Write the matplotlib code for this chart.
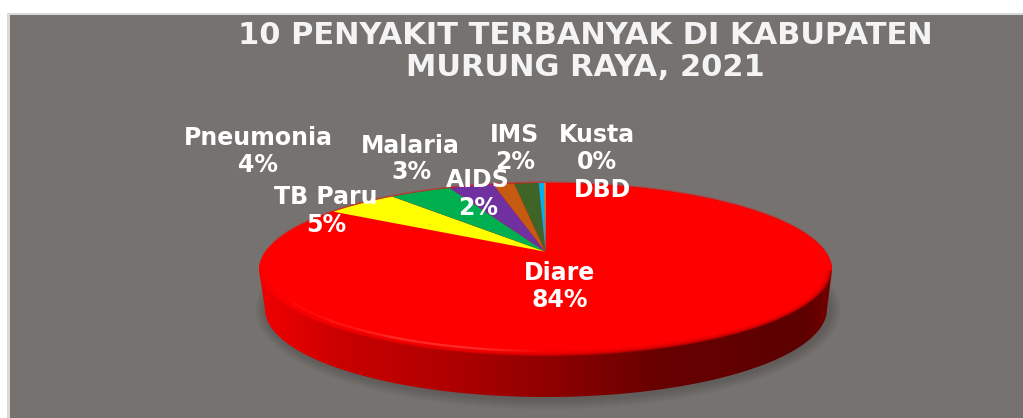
import numpy as np
import matplotlib
matplotlib.use("Agg")
import matplotlib.pyplot as plt
from matplotlib.colors import LinearSegmentedColormap
from matplotlib.patches import Ellipse, Polygon, Rectangle, Arc

# ---- data (clockwise from the back of the pie) ----
diseases = ["Diare", "TB Paru", "Pneumonia", "Malaria", "AIDS", "IMS", "Kusta", "DBD"]
shares = [84.0, 5.0, 4.3, 3.1, 1.45, 1.7, 0.4, 0.07]
shown = ["84%", "5%", "4%", "3%", "2%", "2%", "0%", ""]
slice_colors = ["#FF0000", "#FFFF00", "#00B050", "#7030A0", "#C55A11", "#3F6427", "#00B0F0", "#FFC000"]
title_lines = ["10 PENYAKIT TERBANYAK DI KABUPATEN", "MURUNG RAYA, 2021"]

# ---- layout ----
BG = "#767270"
CX, CY, RX, RY = 545.5, 270.5, 286.5, 87.5
BCX, BCY, BRX, BRY = 546.0, 309.0, 281.0, 88.0
K = 0.804  # perspective of the tilted disc
label_pos = {
    "Diare": (560, 273, 560, 300),
    "TB Paru": (326, 197, 326, 225),
    "Pneumonia": (258, 138, 258, 165),
    "Malaria": (410, 146, 411, 172),
    "AIDS": (478, 180, 478, 208),
    "IMS": (515, 135, 515, 162),
    "Kusta": (597, 135, 597, 162),
    "DBD": (603, 190, 603, 190),
}

plt.rcParams["font.family"] = ["DejaVu Sans"]
fig = plt.figure(figsize=(10.23, 4.18), dpi=100, facecolor="white")
ax = fig.add_axes([0, 0, 1, 1])
ax.set_xlim(0, 1023)
ax.set_ylim(418, 0)
ax.axis("off")

ax.add_patch(Rectangle((7, 13), 1016, 405, color="#D9D9D9", lw=0))
ax.add_patch(Rectangle((10, 15), 1013, 403, color=BG, lw=0))


def project(a):
    t = 2 * np.arctan2(K * np.sin(a / 2), np.cos(a / 2))
    return CX + RX * np.sin(t), CY - RY * np.cos(t)


# soft shadow
for i in range(12):
    grow = 12 - i
    ax.add_patch(Ellipse((BCX + 2, BCY + 1), 2 * (BRX + grow), 2 * (BRY + grow),
                         color="#3a3634", alpha=0.025, lw=0))

# side wall with horizontal gradient
stops = [(0.0, (240, 0, 0)), (0.15, (200, 0, 0)), (0.33, (176, 0, 0)), (0.52, (140, 0, 0)),
         (0.69, (105, 0, 0)), (0.95, (92, 0, 0)), (1.0, (115, 0, 0))]
cmap = LinearSegmentedColormap.from_list(
    "side", [(p, tuple(v / 255 for v in c)) for p, c in stops])
th = np.linspace(np.pi, 2 * np.pi, 200)
upper = np.c_[CX + RX * np.cos(th), CY + RY * np.sin(th)]
lower = np.c_[BCX + BRX * np.cos(th[::-1]), BCY - BRY * np.sin(th[::-1])]
wall = Polygon(np.r_[upper, lower], closed=True, transform=ax.transData, lw=0, fc="none")
ax.add_patch(wall)
grad = np.linspace(0, 1, 600)[None, :]
im = ax.imshow(grad, cmap=cmap, extent=(CX - RX, CX + RX, 400, 180), aspect="auto", zorder=2)
im.set_clip_path(wall)
ax.set_xlim(0, 1023)
ax.set_ylim(418, 0)

# top surface: soft bevel along the front, crisp edge along the back
steps = 9
for i in range(steps):
    ax.add_patch(Ellipse((CX, CY - 0.2 * (steps - i)), 2 * (RX - i * 0.9), 2 * (RY - i * 0.9),
                         fc="#FF0000", alpha=0.30 if i < steps - 1 else 1.0, lw=0, zorder=3))
back = np.linspace(np.pi, 2 * np.pi, 300)
ax.fill(CX + RX * np.cos(back), CY - 6 + (RY - 6) * np.sin(back) * 0 + (CY + RY * np.sin(back) - (CY - 6)),
        color="#FF0000", lw=0, zorder=3.2)
# highlight that fades out towards the front of the disc
segments = np.linspace(172, 92, 17)
for j, (t0, t1) in enumerate(zip(segments[1:], segments[:-1])):
    fade = 0.45 * min(1.0, (16 - j) / 8) * min(1.0, (j + 1) / 4)
    ax.add_patch(Arc((CX, CY - 3), 2 * (RX - 8), 2 * (RY - 4), theta1=t0, theta2=t1,
                     color="#FF5A5A", lw=1.6, alpha=fade, zorder=3.5))

# slices
edges = np.r_[0, np.cumsum(shares)] / np.sum(shares) * 2 * np.pi
apex = (CX, project(np.pi / 2)[1])
for a0, a1, col in zip(edges[:-1], edges[1:], slice_colors):
    if col == slice_colors[0]:
        continue
    aa = np.linspace(a0, a1, 300)
    x, y = project(aa)
    ax.fill(np.r_[apex[0], x], np.r_[apex[1], y], color=col, lw=0, zorder=4)

# texts
lab_kw = dict(color="white", ha="center", va="center", fontsize=17, fontweight="bold", zorder=6)
for name, pct in zip(diseases, shown):
    x0, y0, x1, y1 = label_pos[name]
    ax.text(x0, y0, name, **lab_kw)
    if pct:
        ax.text(x1, y1, pct, **lab_kw)

for line, y in zip(title_lines, (35, 67)):
    ax.text(585, y, line, color="#F4F4F4", ha="center", va="center", fontsize=22,
            fontweight="bold", zorder=6)

fig.savefig("out.png", dpi=100, facecolor="white")
